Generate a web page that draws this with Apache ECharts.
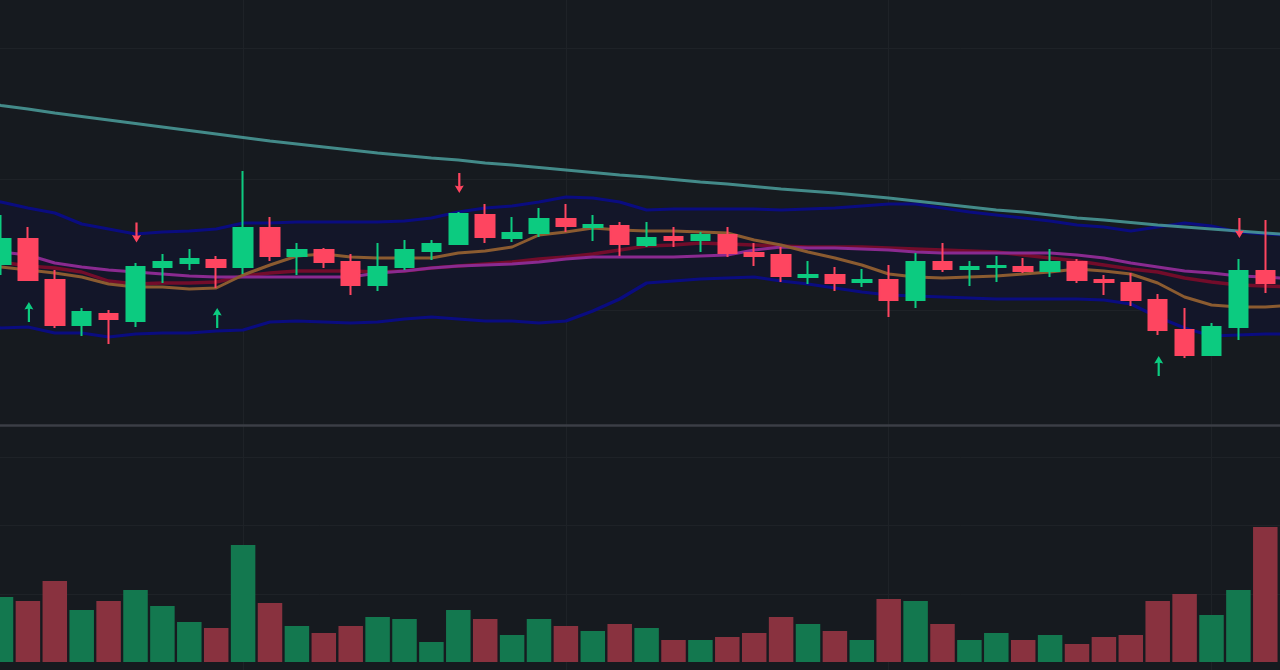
<!DOCTYPE html>
<html><head><meta charset="utf-8"><title>Candlestick chart</title>
<script src="https://cdn.jsdelivr.net/npm/echarts@6/dist/echarts.min.js"></script>
<style>html,body{margin:0;padding:0;background:#161a1f;overflow:hidden}#c{width:1280px;height:670px;filter:blur(.6px)}</style>
</head><body><div id="c"></div>
<script>
// [open, close, low, high]
const candles = [
[170,160,150,178],[160,187,150,210],[187,144,144,198],[146,99,97,155],[99,114,89,117],[112,105,81,115],
[103,159,98,162],[157,164,142,171],[161,167,155,176],[166,157,137,169],[157,198,151,254],[198,168,164,208],
[168,176,150,182],[176,162,157,177],[164,139,130,171],[139,159,134,182],[157,176,155,185],[173,182,165,185],
[180,212,180,213],[211,187,182,221],[186,193,183,208],[191,207,188,217],[207,198,193,221],[197,201,184,210],
[200,180,169,203],[179,188,178,203],[189,184,178,198],[184,191,173,193],[191,171,168,198],[173,168,159,182],
[171,148,143,178],[147,151,141,164],[151,141,134,158],[142,146,138,156],[146,124,108,160],[124,164,117,172],
[164,155,153,182],[155,159,139,164],[157,160,143,169],[159,153,152,167],[153,164,148,176],[164,144,142,166],
[146,142,130,150],[143,124,119,152],[126,94,90,131],[96,69,67,117],[69,99,69,102],[97,155,85,166],
[155,141,132,205],[141,150,130,158]
];
const volumes = [50,65,61,81,52,61,72,56,40,34,117,59,36,29,36,45,43,20,52,43,27,43,36,31,38,34,22,22,25,29,45,38,31,22,63,61,38,22,29,22,27,18,25,27,61,68,47,72,135,65];
const longLine = [323.5,319.5,316,312,308.5,305,301.5,298,294.5,291,287.5,284,281,278,275,272,269.5,267,265,262,260,257.5,255,252.5,250,248,245.5,243,241,238.5,236,234,232,229.5,227,224,221,218,215,213,210,207,205,202.5,200,198,196,194,192,190];
const bandUpper = [227,223,217,212,201,196,191,193,194,196,202,202,203,203,203,203,204,207,213,217,219,223,228,227,223,215,216,216,216,216,215,216,217,219,221,221,217,213,210,207,204,200,198,194,198,202,199,193,191,190];
const bandLower = [99,97,98,92,92,88,91,92,92,94,95,103,104,103,102,103,106,108,106,104,104,102,104,114,126,142,144,146,147,148,144,141,137,133,130,129,128,127,126,126,126,126,125,121,108,97,89,90,91,91];
const purpleLine = [176,173,170,162,158,155,153,151,149,148,148,148,148,148,148,152,154,157,159,160,161,163,166,168,168,168,168,169,170,175,178,177,177,176,175,173,172,172,172,172,172,170,167,162,158,154,152,149,148,146];
const redLine = [166,163,159,157,153,144,141,142,142,143,149,152,154,154,154,153,154,157,159,161,163,166,168,171,175,179,180,182,181,180,179,178,178,178,177,176,175,174,173,170,167,164,160,156,153,147,143,140,139,138];
const brownLine = [160,158,155,152,148,141,138,138,136,137,150,160,169,171,168,167,167,167,172,174,178,190,193,197,195,194,194,193,192,185,180,173,167,160,151,148,147,148,149,151,153,156,154,151,142,128,120,118,118,120];
const buySignals = [[2,113],[9,107],[44,59]];
const sellSignals = [[6,192.5],[18,242],[47,197]];
const gridBars = [10,22,34,46];
const priceGrid = [115,246,377];
const volumeGrid = [68,137,205];
const separatorLevel = 237;

const categories = candles.map((_, i) => String(i));
const bandWidth = bandUpper.map((v, i) => v - bandLower[i]);
// the body border is drawn outside the path: pull the path in so the outer edge sits on the value
const BODY_INSET = 1;
const drawnCandles = candles.map(([o, c, l, h]) => {
  const dir = c >= o ? 1 : -1;
  return [o + dir * BODY_INSET, c - dir * BODY_INSET, l, h];
});
const isUp = candles.map(([o, c]) => c >= o);
const GREEN = '#0ccb80', RED = '#fe4560', VGREEN = '#13784f', VRED = '#89323f', GRID = '#1e2227';
const UP_ARROW = 'path://M4.5 0 L9 8 L5.6 7 L5.6 21 L3.4 21 L3.4 7 L0 8 Z';
const DOWN_ARROW = 'path://M4.5 21 L9 13 L5.6 14 L5.6 0 L3.4 0 L3.4 14 L0 13 Z';
const lineSeries = (name, data, color, width, z, opacity) => ({
  name, type: 'line', data, xAxisIndex: 0, yAxisIndex: 0, symbol: 'none', silent: true, z,
  lineStyle: { color, width, opacity: opacity === undefined ? 1 : opacity }
});
const xAxisOf = gridIndex => ({
  type: 'category', gridIndex, data: categories, boundaryGap: true,
  axisLine: { show: false }, axisTick: { show: false }, axisLabel: { show: false }, splitLine: { show: false }
});
const vertical = gridBars.map(b => ({ xAxis: b }));
const chart = echarts.init(document.getElementById('c'), null, { renderer: 'canvas' });
chart.setOption({
  animation: false,
  backgroundColor: '#161a1f',
  grid: [
    { left: -39.35, width: 1345, top: 0, height: 425, outerBoundsMode: 'none' },
    { left: -39.35, width: 1345, top: 415, height: 255, outerBoundsMode: 'none' }
  ],
  xAxis: [xAxisOf(0), xAxisOf(1)],
  yAxis: [
    { type: 'value', gridIndex: 0, min: 0, max: 425, show: false, splitLine: { show: false } },
    { type: 'value', gridIndex: 1, min: -8, max: 247, show: false, splitLine: { show: false } }
  ],
  series: [
    { name: 'bandBase', type: 'line', data: bandLower, stack: 'band', symbol: 'none', silent: true, z: 1,
      lineStyle: { opacity: 0 },
      markLine: { z: 1, silent: true, symbol: 'none', label: { show: false }, animation: false,
        lineStyle: { color: GRID, width: 1, type: 'solid' },
        data: [...vertical, ...priceGrid.map(v => ({ yAxis: v }))] } },
    { name: 'bandFill', type: 'line', data: bandWidth, stack: 'band', symbol: 'none', silent: true, z: 1,
      lineStyle: { opacity: 0 }, areaStyle: { color: '#131629', opacity: 1 } },
    lineSeries('upper', bandUpper, '#0a0c80', 3.2, 3),
    lineSeries('lower', bandLower, '#0a0c80', 3.2, 3),
    lineSeries('long', longLine, '#4b9f9c', 3, 4, 0.85),
    lineSeries('red', redLine, '#720c2a', 3.4, 4),
    lineSeries('purple', purpleLine, '#8a2a90', 3, 5),
    lineSeries('brown', brownLine, '#8b5b30', 3, 6),
    { name: 'candles', type: 'candlestick', data: drawnCandles, barWidth: 19, z: 8, silent: true,
      itemStyle: { color: GREEN, color0: RED, borderColor: GREEN, borderColor0: RED, borderWidth: 2 } },
    { name: 'buy', type: 'scatter', data: buySignals, symbol: UP_ARROW, symbolSize: [9, 20], symbolOffset: [1, 0], z: 9, silent: true,
      itemStyle: { color: GREEN, opacity: 1 } },
    { name: 'sell', type: 'scatter', data: sellSignals, symbol: DOWN_ARROW, symbolSize: [9, 20], symbolOffset: [1, 0], z: 9, silent: true,
      itemStyle: { color: RED, opacity: 1 } },
    { name: 'volumeGrid', type: 'line', data: volumes, xAxisIndex: 1, yAxisIndex: 1, symbol: 'none', silent: true, z: 1,
      lineStyle: { opacity: 0 },
      markLine: { z: 1, silent: true, symbol: 'none', label: { show: false }, animation: false,
        lineStyle: { color: GRID, width: 1, type: 'solid' },
        data: [...vertical, ...volumeGrid.map(v => ({ yAxis: v })),
          { yAxis: separatorLevel, lineStyle: { color: '#3b3e46', width: 2.5 } }] } },
    { name: 'volume', type: 'bar', xAxisIndex: 1, yAxisIndex: 1, barWidth: 24.5, z: 3, silent: true,
      data: volumes.map((v, i) => ({ value: v,
        itemStyle: { color: isUp[i] ? VGREEN : VRED } })) }
  ]
});
</script></body></html>
